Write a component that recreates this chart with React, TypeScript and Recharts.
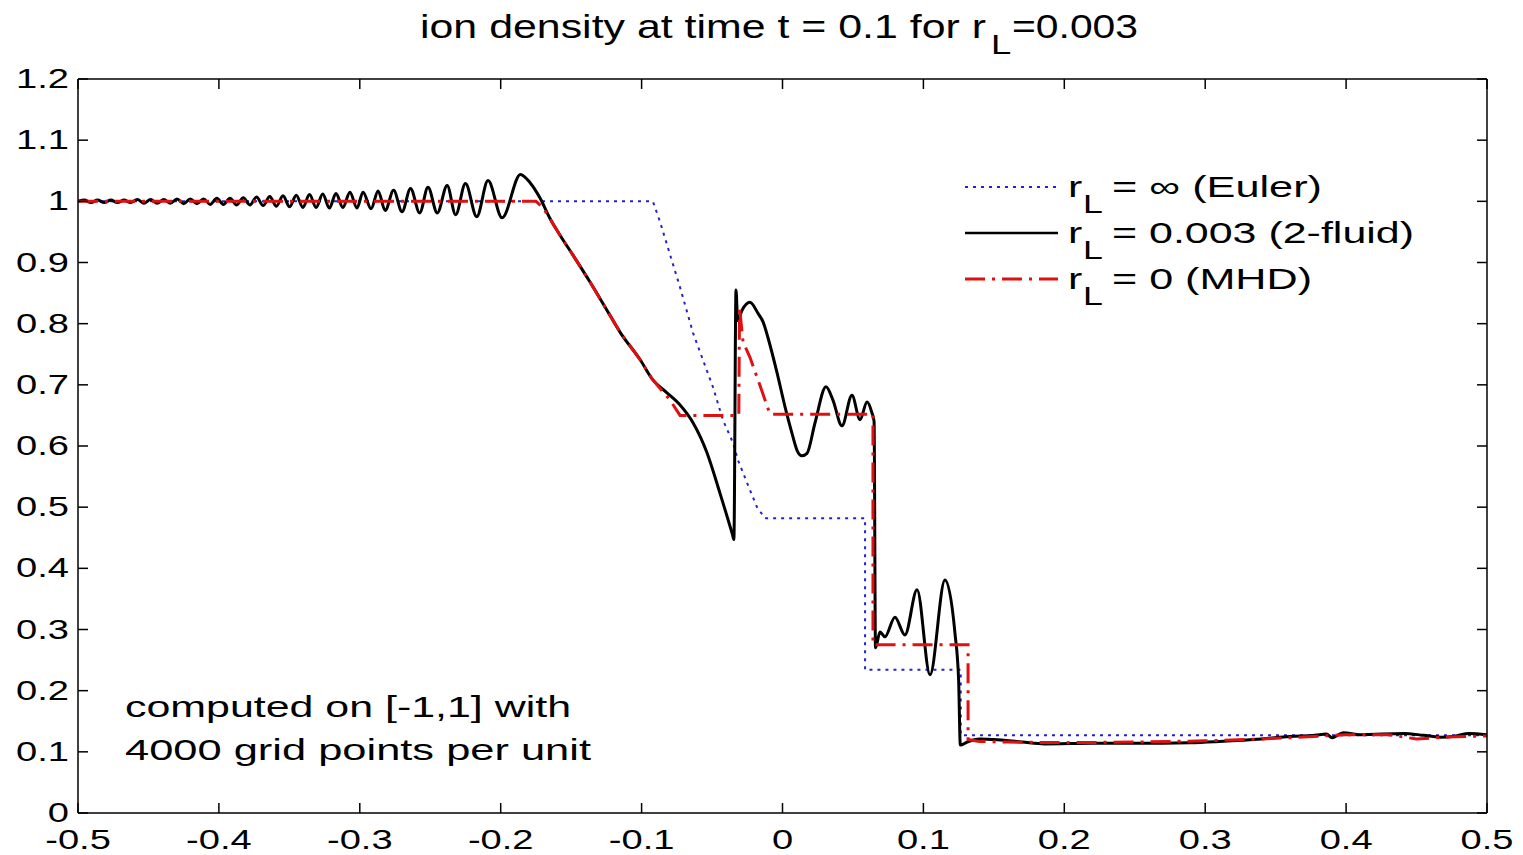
import React from 'react';
import { LineChart, Line, XAxis, YAxis, Legend } from 'recharts';

type Pt = [number, number];

// axis ticks (matlab style: labels below/left, ticks pointing inward on all four sides)
const xTicks = [-0.5, -0.4, -0.3, -0.2, -0.1, 0, 0.1, 0.2, 0.3, 0.4, 0.5];
const yTicks = [0, 0.1, 0.2, 0.3, 0.4, 0.5, 0.6, 0.7, 0.8, 0.9, 1, 1.1, 1.2];

// r_L = inf (Euler)
const eulerPts: Pt[] = [
  [-0.5, 1.0], [-0.092, 1.0], [-0.087, 0.967], [-0.0728, 0.86], [-0.0635, 0.785],
  [-0.0493, 0.696], [-0.0422, 0.642], [-0.0351, 0.605], [-0.0316, 0.577], [-0.0252, 0.54],
  [-0.0181, 0.5], [-0.0124, 0.482], [0.0586, 0.482], [0.0586, 0.234], [0.1265, 0.234],
  [0.1265, 0.127], [0.5, 0.127],
];

// r_L = 0.003 (2-fluid)
const twoFluidPts: Pt[] = [
  [-0.5, 1.0], [-0.4955, 1.002], [-0.4908, 0.998], [-0.4861, 1.002], [-0.4814, 0.998],
  [-0.4767, 1.002], [-0.472, 0.998], [-0.4673, 1.002], [-0.4626, 0.998], [-0.4579, 1.003],
  [-0.4532, 0.997], [-0.4485, 1.003], [-0.4438, 0.997], [-0.4391, 1.003], [-0.4344, 0.997],
  [-0.4297, 1.004], [-0.425, 0.996], [-0.4203, 1.004], [-0.4156, 0.996], [-0.4109, 1.004],
  [-0.4062, 0.995], [-0.4015, 1.005], [-0.3968, 0.995], [-0.3921, 1.005], [-0.3874, 0.994],
  [-0.3827, 1.006], [-0.378, 0.994], [-0.3733, 1.007], [-0.3686, 0.993], [-0.3639, 1.008],
  [-0.3592, 0.992], [-0.3545, 1.009], [-0.3498, 0.991], [-0.3451, 1.01], [-0.3404, 0.99],
  [-0.3357, 1.011], [-0.331, 0.99], [-0.3263, 1.012], [-0.3216, 0.989], [-0.3169, 1.013],
  [-0.312, 0.99], [-0.307, 1.015], [-0.302, 0.989], [-0.2977, 1.015], [-0.292, 0.988],
  [-0.287, 1.017], [-0.282, 0.985], [-0.276, 1.018], [-0.27, 0.983], [-0.264, 1.021],
  [-0.2575, 0.981], [-0.2516, 1.023], [-0.245, 0.981], [-0.238, 1.026], [-0.232, 0.978],
  [-0.225, 1.029], [-0.217, 0.975], [-0.209, 1.034], [-0.199, 0.973], [-0.186, 1.044],
  [-0.179, 1.03], [-0.172, 1.005], [-0.165, 0.972], [-0.158, 0.945], [-0.1487, 0.912],
  [-0.1366, 0.868], [-0.1246, 0.822], [-0.115, 0.785], [-0.101, 0.741], [-0.092, 0.708],
  [-0.082, 0.687], [-0.0727, 0.667], [-0.0635, 0.638], [-0.0536, 0.589], [-0.0444, 0.523],
  [-0.0355, 0.455], [-0.0345, 0.447], [-0.033, 0.855], [-0.0318, 0.805], [-0.0287, 0.822],
  [-0.0231, 0.835], [-0.0174, 0.817], [-0.0138, 0.803], [-0.0103, 0.777], [-0.0039, 0.72],
  [0.0018, 0.664], [0.0067, 0.621], [0.0103, 0.593], [0.0138, 0.584], [0.0174, 0.588],
  [0.0231, 0.638], [0.0309, 0.697], [0.0358, 0.675], [0.0422, 0.633], [0.0493, 0.683],
  [0.055, 0.643], [0.06, 0.672], [0.0635, 0.654], [0.065, 0.64], [0.066, 0.27],
  [0.0692, 0.296], [0.0727, 0.288], [0.0798, 0.32], [0.0869, 0.291], [0.0955, 0.365],
  [0.1047, 0.226], [0.1153, 0.381], [0.1224, 0.294], [0.125, 0.217], [0.1262, 0.111],
  [0.131, 0.116], [0.14, 0.121], [0.15, 0.12], [0.17, 0.116], [0.186, 0.113],
  [0.22, 0.114], [0.25, 0.114], [0.289, 0.115], [0.31, 0.117], [0.34, 0.121],
  [0.36, 0.125], [0.378, 0.127], [0.386, 0.129], [0.39, 0.123], [0.398, 0.131],
  [0.41, 0.128], [0.441, 0.13], [0.455, 0.127], [0.467, 0.124], [0.478, 0.126],
  [0.487, 0.13], [0.5, 0.128],
];

// r_L = 0 (MHD)
const mhdPts: Pt[] = [
  [-0.5, 1.0], [-0.175, 1.0], [-0.17, 0.99], [-0.158, 0.945], [-0.1487, 0.912],
  [-0.1366, 0.868], [-0.1246, 0.822], [-0.115, 0.785], [-0.101, 0.741], [-0.092, 0.708],
  [-0.0798, 0.675], [-0.0727, 0.65], [-0.031, 0.65], [-0.0305, 0.827], [-0.028, 0.77],
  [-0.0231, 0.745], [-0.0146, 0.69], [-0.0089, 0.652], [0.0642, 0.652], [0.0642, 0.275],
  [0.1317, 0.275], [0.1317, 0.12], [0.14, 0.117], [0.16, 0.116], [0.2, 0.115],
  [0.25, 0.116], [0.3, 0.118], [0.34, 0.121], [0.36, 0.123], [0.4, 0.128],
  [0.43, 0.128], [0.45, 0.121], [0.47, 0.124], [0.5, 0.126],
];

const legendLabels = ['= \u221e (Euler)', '= 0.003 (2-fluid)', '= 0 (MHD)'];
const titleParts = ['ion density at time t = 0.1 for r', 'L', '=0.003'];
const noteLines = ['computed on [-1,1] with', '4000 grid points per unit'];

const FONT = '"Liberation Sans", Arial, Helvetica, sans-serif';
const EULER = '#2323c8';
const MHD = '#e01010';

const toRows = (pts: Pt[]) => pts.map(([x, y]) => ({ x, y }));
const fmt = (v: number) => String(Math.round(v * 10) / 10);

const BottomTick = ({ x, y, payload }: any) => (
  <g>
    <line x1={x} y1={y} x2={x} y2={y - 10} stroke="#000" strokeWidth={1.5} />
    <text transform={`translate(${x},${y + 36}) scale(1.36,1)`} textAnchor="middle"
      fontSize={28} fontFamily={FONT} fill="#000">{fmt(payload.value)}</text>
  </g>
);

const LeftTick = ({ x, y, payload }: any) => (
  <g>
    <line x1={x} y1={y} x2={x + 10} y2={y} stroke="#000" strokeWidth={1.5} />
    <text transform={`translate(${x - 9},${y + 9}) scale(1.36,1)`} textAnchor="end"
      fontSize={28} fontFamily={FONT} fill="#000">{fmt(payload.value)}</text>
  </g>
);

const TopTick = ({ x, y }: any) => (
  <line x1={x} y1={y} x2={x} y2={y + 10} stroke="#000" strokeWidth={1.5} />
);

const RightTick = ({ x, y }: any) => (
  <line x1={x} y1={y} x2={x - 10} y2={y} stroke="#000" strokeWidth={1.5} />
);

const legendStyles = [
  { color: EULER, width: 2, dash: '3 5', textLen: 210 },
  { color: '#000', width: 2.5, dash: undefined, textLen: 302 },
  { color: MHD, width: 3, dash: '20 7 3 7', textLen: 200 },
];

const renderLegend = () => (
  <svg width={500} height={150} style={{ display: 'block' }}>
    {legendLabels.map((label, i) => {
      const cy = 27 + i * 46;
      const s = legendStyles[i];
      return (
        <g key={label} fontFamily={FONT} fill="#000">
          <line x1={10} x2={103} y1={cy} y2={cy} stroke={s.color} strokeWidth={s.width} strokeDasharray={s.dash} />
          <text transform={`translate(${113},${cy + 10}) scale(1.43,1)`} fontSize={30}>r</text>
          <text transform={`translate(${128},${cy + 26}) scale(1.43,1)`} fontSize={25}>L</text>
          <text x={157} y={cy + 10} fontSize={30} textLength={s.textLen} lengthAdjust="spacingAndGlyphs">{label}</text>
        </g>
      );
    })}
  </svg>
);

const axisLine = { stroke: '#000', strokeWidth: 1.5 };

export default function App() {
  return (
    <div style={{ position: 'absolute', left: 0, top: 0, width: 1523, height: 855, background: '#fff' }}>
      <LineChart width={1523} height={855} margin={{ top: 78, right: 35, bottom: 0, left: 0 }}>
        <XAxis type="number" dataKey="x" domain={[-0.5, 0.5]} allowDataOverflow ticks={xTicks} interval={0}
          height={42} tickSize={0} tickMargin={0} tickLine={false} axisLine={axisLine} tick={BottomTick} />
        <XAxis xAxisId="top" orientation="top" type="number" dataKey="x" domain={[-0.5, 0.5]} allowDataOverflow
          ticks={xTicks} interval={0} height={1} tickSize={0} tickMargin={0} tickLine={false} axisLine={axisLine} tick={TopTick} />
        <YAxis type="number" domain={[0, 1.2]} allowDataOverflow ticks={yTicks} interval={0}
          width={78} tickSize={0} tickMargin={0} tickLine={false} axisLine={axisLine} tick={LeftTick} />
        <YAxis yAxisId="right" orientation="right" type="number" domain={[0, 1.2]} allowDataOverflow
          ticks={yTicks} interval={0} width={1} tickSize={0} tickMargin={0} tickLine={false} axisLine={axisLine} tick={RightTick} />

        {/* Euler is plotted against the top/right axes (same domains) so the box axes get drawn */}
        <Line data={toRows(eulerPts)} xAxisId="top" yAxisId="right" dataKey="y" type="linear" stroke={EULER} strokeWidth={2}
          strokeDasharray="3 5" dot={false} activeDot={false} isAnimationActive={false} name="euler" />
        <Line data={toRows(twoFluidPts)} dataKey="y" type="monotone" stroke="#000" strokeWidth={3}
          strokeLinejoin="round" dot={false} activeDot={false} isAnimationActive={false} name="twofluid" />
        <Line data={toRows(mhdPts)} dataKey="y" type="linear" stroke={MHD} strokeWidth={3}
          strokeDasharray="20 7 3 7" dot={false} activeDot={false} isAnimationActive={false} name="mhd" />

        <Legend layout="vertical" align="center" verticalAlign="middle" content={renderLegend}
          wrapperStyle={{ left: 955, top: 160, width: 500, height: 150 }} />

        <g fontFamily={FONT} fill="#000">
          <text x={420} y={38} fontSize={33} textLength={566} lengthAdjust="spacingAndGlyphs">{titleParts[0]}</text>
          <text transform="translate(991,54) scale(1.35,1)" fontSize={27}>{titleParts[1]}</text>
          <text x={1012} y={38} fontSize={33} textLength={126} lengthAdjust="spacingAndGlyphs">{titleParts[2]}</text>
          <text x={125} y={717} fontSize={30} textLength={446} lengthAdjust="spacingAndGlyphs">{noteLines[0]}</text>
          <text x={125} y={760} fontSize={30} textLength={466} lengthAdjust="spacingAndGlyphs">{noteLines[1]}</text>
        </g>
      </LineChart>
    </div>
  );
}
